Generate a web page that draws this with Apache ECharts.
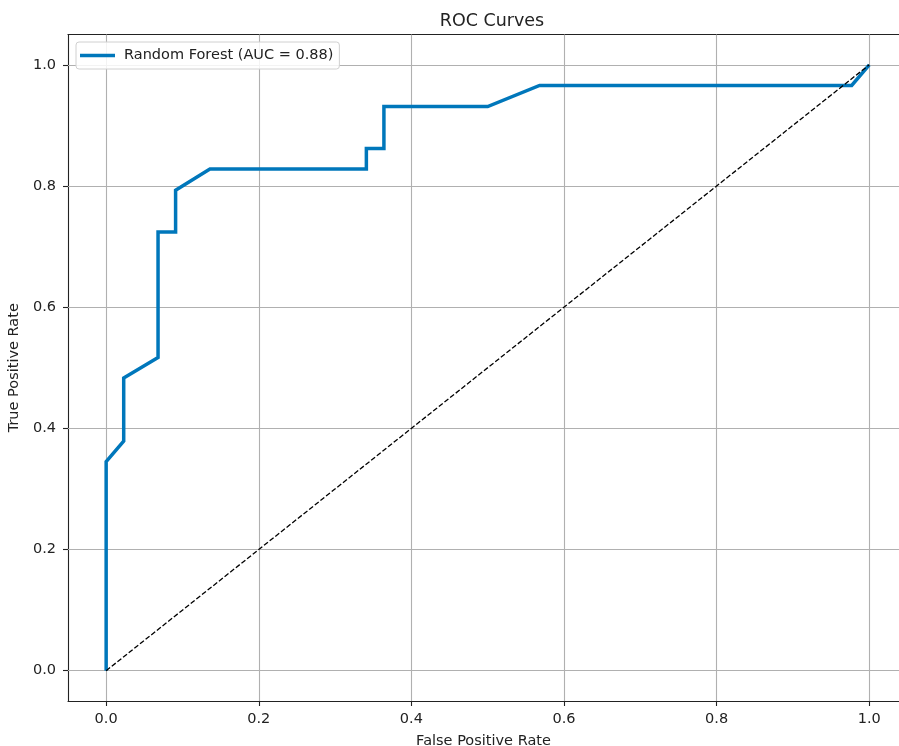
<!DOCTYPE html>
<html>
<head>
<meta charset="utf-8">
<script src="https://cdn.jsdelivr.net/npm/echarts@6/dist/echarts.min.js"></script>
<style>html,body{margin:0;padding:0;background:#fff}#c{width:899px;height:746px}</style>
</head>
<body>
<div id="c"></div>
<script>
const fpr = [0, 0, 0.023, 0.023, 0.068, 0.068, 0.091, 0.091, 0.136, 0.341, 0.341, 0.364, 0.364, 0.5, 0.568, 0.977, 1.0];
const tpr = [0, 0.345, 0.379, 0.483, 0.517, 0.724, 0.724, 0.793, 0.828, 0.828, 0.862, 0.862, 0.931, 0.931, 0.966, 0.966, 1.0];
const chanceX = [0, 1];
const chanceY = [0, 1];
const tickValues = [0, 0.2, 0.4, 0.6, 0.8, 1.0];
const seriesName = 'Random Forest (AUC = 0.88)';
const titleText = 'ROC Curves';
const xTitle = 'False Positive Rate';
const yTitle = 'True Positive Rate';

const font = 'DejaVu Sans';
const fs = 14.5;
const gridColor = '#b0b0b0';
const spineColor = '#222';
const chart = echarts.init(document.getElementById('c'), null, {renderer: 'canvas'});
const axisCommon = (name) => ({
  type: 'value',
  name: name,
  nameLocation: 'middle',
  nameTextStyle: {fontFamily: font, fontSize: fs, color: '#222'},
  axisLine: {show: true, onZero: false, lineStyle: {color: spineColor, width: 1.1}},
  axisTick: {show: true, length: 5, inside: false, customValues: tickValues, lineStyle: {color: spineColor, width: 1.1}},
  axisLabel: {customValues: tickValues, fontFamily: font, fontSize: fs, color: '#222', formatter: v => v.toFixed(1)},
  splitLine: {show: false},
  splitArea: {show: false},
  minorTick: {show: false}
});
// plot spans 68..~907 px in the reference (right spine falls outside the 899px image)
const xAxis = axisCommon(xTitle);
xAxis.min = -0.05; xAxis.max = 1.039;
xAxis.nameGap = 33;
xAxis.axisLabel.margin = 11;
const yAxis = axisCommon(yTitle);
yAxis.min = -0.05; yAxis.max = 1.05;
yAxis.nameGap = 43;
yAxis.axisLabel.margin = 12;
const topAxis = {
  type: 'value', position: 'top', min: -0.05, max: 1.039,
  axisLine: {show: true, onZero: false, lineStyle: {color: spineColor, width: 1.1}},
  axisTick: {show: false}, axisLabel: {show: false}, splitLine: {show: false}, splitArea: {show: false}
};

const gridLines = tickValues.map(v => ({xAxis: v})).concat(tickValues.map(v => ({yAxis: v})));

chart.setOption({
  animation: false,
  backgroundColor: '#fff',
  title: {text: titleText, left: 487, top: 7, textAlign: 'center',
    textStyle: {fontFamily: font, fontSize: 17.5, fontWeight: 'normal', color: '#222'}},
  grid: {left: 68, top: 34.5, right: 0, bottom: 45, show: false, borderWidth: 0, containLabel: false, outerBoundsMode: 'none'},
  legend: {
    data: [{name: seriesName, icon: 'rect'}],
    left: 76, top: 42,
    orient: 'vertical',
    itemWidth: 35, itemHeight: 3.5, itemGap: 5,
    padding: [6, 6, 6, 4],
    backgroundColor: 'rgba(255,255,255,0.85)',
    borderColor: '#d0d0d0', borderWidth: 1, borderRadius: 3,
    textStyle: {fontFamily: font, fontSize: fs, color: '#222', padding: [0, 0, 0, 4]}
  },
  xAxis: [xAxis, topAxis],
  yAxis: yAxis,
  series: [
    {
      name: 'grid', type: 'line', data: [], z: 1, silent: true,
      markLine: {
        silent: true, z: 1, symbol: ['none', 'none'], label: {show: false},
        lineStyle: {color: gridColor, width: 1.1, type: 'solid'},
        emphasis: {disabled: true},
        data: gridLines
      }
    },
    {
      name: seriesName, type: 'line', showSymbol: false, symbol: 'none',
      data: fpr.map((x, i) => [x, tpr[i]]),
      lineStyle: {color: '#0077BB', width: 3.5, join: 'miter'},
      itemStyle: {color: '#0077BB'},
      z: 3
    },
    {
      name: 'chance', type: 'line', showSymbol: false, symbol: 'none',
      data: chanceX.map((x, i) => [x, chanceY[i]]),
      lineStyle: {color: '#000', width: 1.3, type: [5, 2.2]},
      itemStyle: {color: '#000'},
      z: 4
    }
  ]
});
</script>
</body>
</html>
